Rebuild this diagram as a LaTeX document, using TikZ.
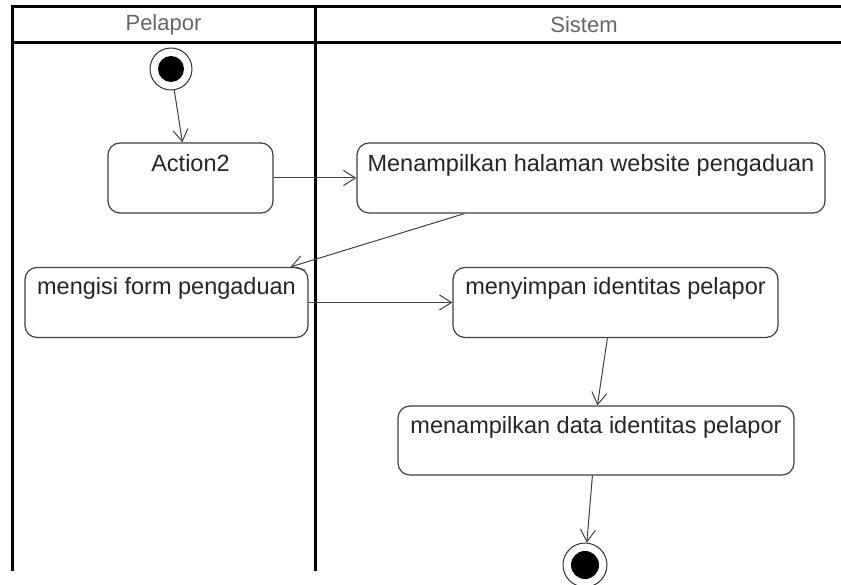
\documentclass[tikz,border=0pt]{standalone}
\usepackage{fontspec}
\setmainfont{Liberation Sans}
\usetikzlibrary{arrows.meta,calc}
\begin{document}
\begin{tikzpicture}[x=1pt,y=-1pt,
  lane/.style={line width=3pt,draw=black},
  headtext/.style={font=\fontsize{22}{26}\selectfont,text=black!60,inner sep=0pt},
  actbox/.style={draw=black!75,line width=1.2pt,rounded corners=12pt,inner sep=0pt,fill=white},
  acttext/.style={font=\fontsize{23.5}{28}\selectfont,text=black!85,inner sep=0pt,anchor=base},
  flow/.style={draw=black!75,line width=1pt,-{Straight Barb[length=12pt,width=15pt,line width=1pt]}},
  ring/.style={circle,draw=black!80,line width=1pt,fill=white,inner sep=0pt},
  dot/.style={circle,fill=black,inner sep=0pt}]
\useasboundingbox (0,0) rectangle (841,585);

% swimlane frame and header
\draw[lane] (12,571) -- (12,6.5) -- (853,6.5);
\draw[lane] (12,42.5) -- (853,42.5);
\draw[lane] (315,5) -- (315,571);
\node[headtext] (hpel) at (163.5,25) {Pelapor};
\node[headtext] (hsis) at (584,25) {Sistem};

% initial node
\node[ring,minimum size=42pt] (start) at (171,69) {};
\node[dot,minimum size=26pt] (startdot) at (start) {};

% actions
\node[actbox,minimum width=165pt,minimum height=70pt] (a2) at (190.5,178) {};
\node[acttext] (a2t) at ($(a2.north)+(0,29)$) {Action2};

\node[actbox,minimum width=468pt,minimum height=70pt] (m1) at (591,178) {};
\node[acttext] (m1t) at ($(m1.north)+(0,29.5)$) {Menampilkan halaman website pengaduan};

\node[actbox,minimum width=283pt,minimum height=70pt] (mf) at (166.5,302.5) {};
\node[acttext] (mft) at ($(mf.north)+(0,27.5)$) {mengisi form pengaduan};

\node[actbox,minimum width=325pt,minimum height=70pt] (ms) at (615.5,302.5) {};
\node[acttext] (mst) at ($(ms.north)+(0,27.5)$) {menyimpan identitas pelapor};

\node[actbox,minimum width=396pt,minimum height=69pt] (md) at (596,440.5) {};
\node[acttext] (mdt) at ($(md.north)+(0,28)$) {menampilkan data identitas pelapor};

% final node
\node[ring,minimum size=44pt] (end) at (585,565) {};
\node[dot,minimum size=28pt] (enddot) at (end) {};

% control flows
\draw[flow] (start) -- ([xshift=75pt]a2.north west);
\draw[flow] (a2.east) -- (a2.east -| m1.west);
\draw[flow] ([xshift=108pt]m1.south west) -- ([xshift=-18pt]mf.north east);
\draw[flow] (mf.east) -- (mf.east -| ms.west);
\draw[flow] ([xshift=155pt]ms.south west) -- ([xshift=200pt]md.north west);
\draw[flow] ([xshift=195pt]md.south west) -- (end);
\end{tikzpicture}
\end{document}
